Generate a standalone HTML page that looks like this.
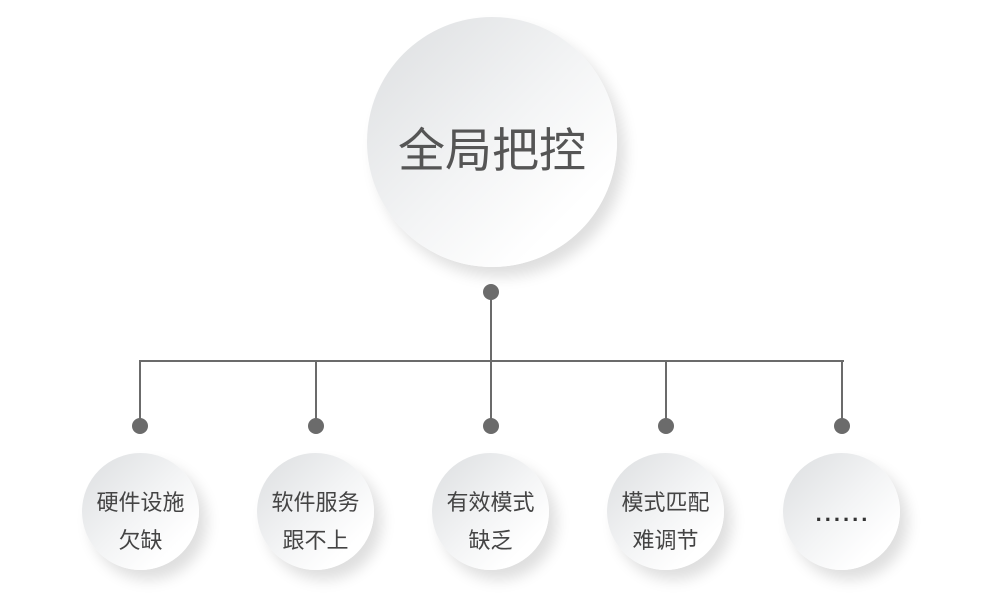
<!DOCTYPE html>
<html><head><meta charset="utf-8"><style>
body{margin:0;width:1000px;height:600px;background:#fff;position:relative;overflow:hidden;font-family:"Liberation Sans","Noto Sans CJK SC",sans-serif}
.c{position:absolute;border-radius:50%;background:linear-gradient(135deg,#dcdee0 0%,#f3f4f5 50%,#ffffff 80%);box-shadow:8px 10px 14px rgba(0,0,0,0.13);display:flex;align-items:center;justify-content:center;text-align:center;color:#444}
.s{width:117px;height:117px;font-size:22px;line-height:38px;box-sizing:border-box;padding-top:20px}
.big{left:367px;top:17px;width:250px;height:250px;font-size:47px;color:#555;box-sizing:border-box;padding-top:8px}
.d{position:absolute;width:16px;height:16px;border-radius:50%;background:#6b6b6b}
.l{position:absolute;background:#6b6b6b}
</style></head><body>
<div class="c big">全局把控</div>
<div class="l" style="left:490px;top:292px;width:2px;height:70px"></div>
<div class="l" style="left:139px;top:360px;width:705px;height:2px"></div>
<div class="l" style="left:139px;top:360px;width:2px;height:66px"></div>
<div class="l" style="left:315px;top:360px;width:2px;height:66px"></div>
<div class="l" style="left:490px;top:360px;width:2px;height:66px"></div>
<div class="l" style="left:665px;top:360px;width:2px;height:66px"></div>
<div class="l" style="left:841px;top:360px;width:2px;height:66px"></div>
<div class="d" style="left:483px;top:284px"></div>
<div class="d" style="left:132px;top:418px"></div>
<div class="d" style="left:308px;top:418px"></div>
<div class="d" style="left:483px;top:418px"></div>
<div class="d" style="left:658px;top:418px"></div>
<div class="d" style="left:834px;top:418px"></div>
<div class="c s" style="left:82px;top:453px">硬件设施<br>欠缺</div>
<div class="c s" style="left:257px;top:453px">软件服务<br>跟不上</div>
<div class="c s" style="left:432px;top:453px">有效模式<br>缺乏</div>
<div class="c s" style="left:607px;top:453px">模式匹配<br>难调节</div>
<div class="c s" style="left:783px;top:453px;font-size:22px;font-weight:bold;padding-top:0;color:#333"><span style="position:relative;top:2px;letter-spacing:3px;margin-left:3px">......</span></div>
</body></html>
